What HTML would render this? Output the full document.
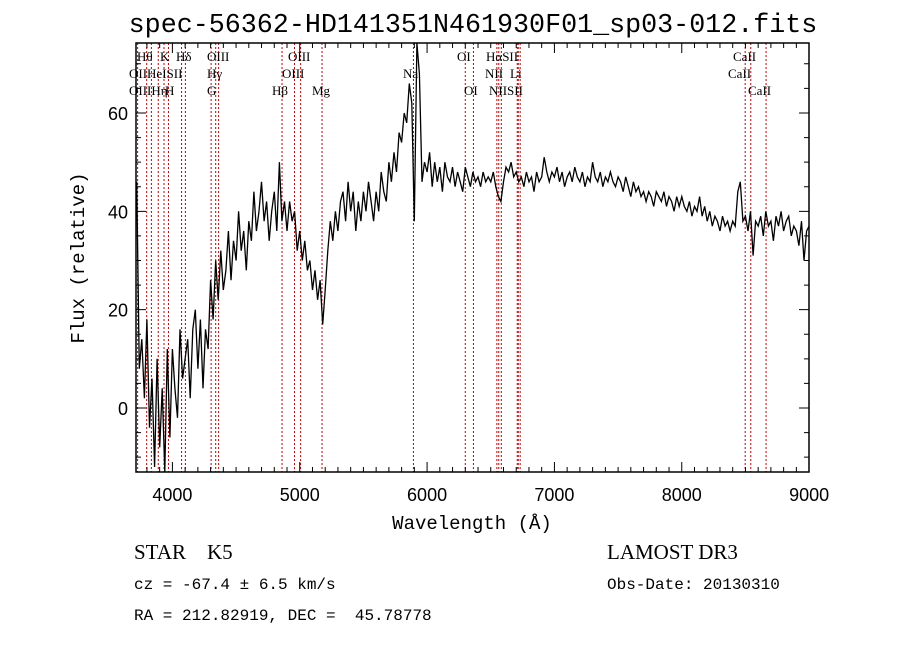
<!DOCTYPE html>
<html><head><meta charset="utf-8"><style>
body{margin:0;background:#fff;}
svg{display:block;}
</style></head><body>
<svg id="chart" width="900" height="649" viewBox="0 0 900 649" xmlns="http://www.w3.org/2000/svg">
<rect width="900" height="649" fill="#fff"/>
<text x="473" y="32" text-anchor="middle" font-family="Liberation Mono, monospace" font-size="26.7">spec-56362-HD141351N461930F01_sp03-012.fits</text>
<g id="lines"></g>
<g id="labels" font-family="Liberation Serif, serif" font-size="13"></g>
<g id="spec"></g>
<g id="axes"></g>
<text x="472" y="529" text-anchor="middle" font-family="Liberation Mono, monospace" font-size="19">Wavelength (Å)</text>
<text transform="translate(84,258) rotate(-90)" text-anchor="middle" font-family="Liberation Mono, monospace" font-size="19">Flux (relative)</text>
<text x="134" y="559" font-family="Liberation Serif, serif" font-size="21" xml:space="preserve">STAR    K5</text>
<text x="607" y="559" font-family="Liberation Serif, serif" font-size="21">LAMOST DR3</text>
<text x="134" y="589" font-family="Liberation Mono, monospace" font-size="16">cz = -67.4 ± 6.5 km/s</text>
<text x="607" y="589" font-family="Liberation Mono, monospace" font-size="16">Obs-Date: 20130310</text>
<text x="134" y="620" font-family="Liberation Mono, monospace" font-size="16" xml:space="preserve">RA = 212.82919, DEC =  45.78778</text>
</svg>
<script>
const wlStart = 3720;
const wlStep = 20;
const flux = [
46,8,14,2,18,-4,6,-12,10,-8,4,-14,12,-6,
12,4,-2,16,6,10,14,2,16,20,8,18,4,16,12,
26,18,30,22,32,24,28,36,26,34,30,40,32,36,28,
38,34,44,36,40,46,38,42,34,40,44,36,50,38,42,
36,42,38,40,32,36,30,34,28,30,24,28,22,26,17,
24,32,38,34,40,36,42,44,38,46,40,44,36,42,38,
44,40,46,42,38,44,40,48,44,42,50,46,52,48,56,
54,60,58,66,62,38,75,68,46,50,
48,52,45,50,46,49,44,50,47,46,49,45,48,46,44,49,47,45,48,46,47,45,48,46,47,
46,48,45,43,42,46,49,48,50,47,48,46,47,45,48,46,47,44,48,46,47,51,48,46,48,
47,49,46,48,45,47,48,46,49,47,46,48,45,47,46,50,47,46,48,45,47,46,48,46,45,
47,46,44,47,45,43,46,44,45,43,44,42,44,43,41,44,43,42,44,41,43,42,40,43,41,
43,41,40,42,39,41,40,43,39,41,38,40,37,39,38,36,39,37,38,36,38,37,44,46,38,
39,36,40,31,38,37,39,35,40,37,38,34,39,37,40,36,38,39,35,37,36,33,38,30,36,
37];
const lineWl = [3727,3798,3835,3889,3934,3969,4072,4102,4304,4340,4363,4861,4959,5007,5175,5893,6300,6364,6548,6563,6583,6708,6716,6731,8498,8542,8662];
const labelText = ["Hθ","K","Hδ","OIII","OIII","OI","HαSII","CaII","OIIHeISII","Hγ","OIII","Na","NII","Li","CaII","OIIIHη","H","G","Hβ","Mg","OI","NIISII","CaII"];
const labelX = [137,160,176,207,288,457,486,733,129,207,282,403,485,510,728,129,165,207,272,312,464,489,748];
const labelRow = [0,0,0,0,0,0,0,0,1,1,1,1,1,1,1,2,2,2,2,2,2,2,2];
const xTicks = [4000,5000,6000,7000,8000,9000];
const yTicks = [0,20,40,60];

const L=136,R=809,T=43,B=472;
const xs = w => 172.4 + (w-4000)*0.12734;
const ys = v => 408 - v*4.917;
const NS='http://www.w3.org/2000/svg';
function mk(tag, parent){const e=document.createElementNS(NS,tag);parent.appendChild(e);return e;}

const gl=document.getElementById('lines');
lineWl.forEach(w=>{
  const l=mk('line',gl);
  
  
  l.setAttribute('x1',xs(w));l.setAttribute('x2',xs(w));
  l.setAttribute('y1',T);l.setAttribute('y2',B);
  l.setAttribute('stroke','#c00000');l.setAttribute('stroke-width','1');l.setAttribute('stroke-dasharray','2,2');
});
const glab=document.getElementById('labels');
const rowY=[61,78,95];
labelText.forEach((t,i)=>{
  const e=mk('text',glab);
  
  
  e.setAttribute('x',labelX[i]);e.setAttribute('y',rowY[labelRow[i]]);
  e.textContent=t;
});

const gs=document.getElementById('spec');
let d='';
flux.forEach((v,i)=>{const w=wlStart+i*wlStep;d+=(i?'L':'M')+xs(w).toFixed(1)+','+Math.max(T,Math.min(B,ys(v))).toFixed(1);});
const p=mk('path',gs);


p.setAttribute('d',d);p.setAttribute('fill','none');p.setAttribute('stroke','#000');p.setAttribute('stroke-width','1.3');

const ga=document.getElementById('axes');
const fr=mk('rect',ga);


fr.setAttribute('x',L);fr.setAttribute('y',T);fr.setAttribute('width',R-L);fr.setAttribute('height',B-T);
fr.setAttribute('fill','none');fr.setAttribute('stroke','#000');fr.setAttribute('stroke-width','1.5');
let td='';
for(let w=3800;w<=9000;w+=100){const x=xs(w);if(x<L||x>R)continue;const len=(w%1000===0)?10:5;td+=`M${x},${B}v${-len}M${x},${T}v${len}`;}
for(let v=-10;v<=70;v+=5){const y=ys(v);if(y<T||y>B)continue;const len=(v%20===0)?10:5;td+=`M${L},${y}h${len}M${R},${y}h${-len}`;}
const tp=mk('path',ga);


tp.setAttribute('d',td);tp.setAttribute('stroke','#000');tp.setAttribute('stroke-width','1');
xTicks.forEach(w=>{
  const e=mk('text',ga);
  
  
  e.setAttribute('x',xs(w));e.setAttribute('y',501);e.setAttribute('text-anchor','middle');
  e.setAttribute('font-family','Liberation Sans, sans-serif');e.setAttribute('font-size','18');
  e.textContent=w;
});
yTicks.forEach(v=>{
  const e=mk('text',ga);
  
  
  e.setAttribute('x',128);e.setAttribute('y',ys(v)+7);e.setAttribute('text-anchor','end');
  e.setAttribute('font-family','Liberation Sans, sans-serif');e.setAttribute('font-size','18');
  e.textContent=v;
});
</script>
</body></html>
